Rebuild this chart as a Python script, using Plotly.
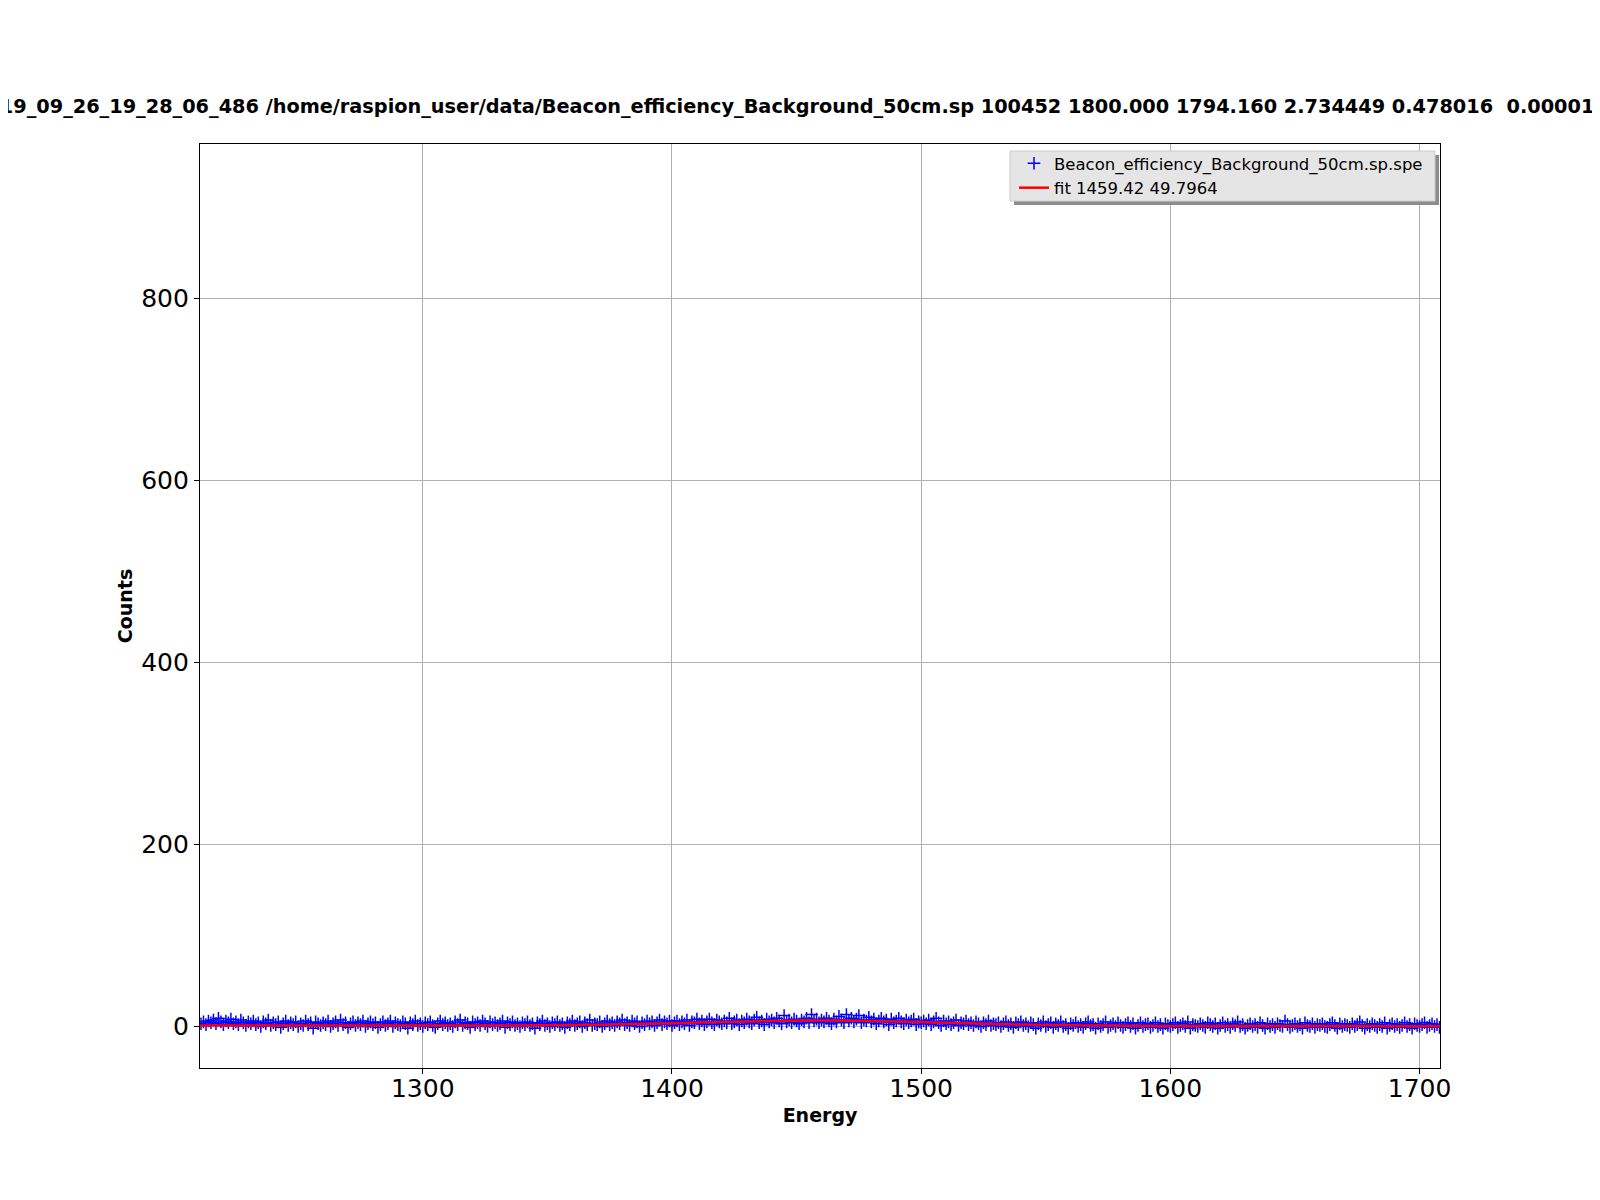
import numpy as np
import plotly.graph_objects as go

# spectrum around the 1460 keV line (1 keV bins, 1211..1708)
energy_first = 1211
counts = [
    3, 5, 2, 6, 4, 7, 3, 9, 5, 2,
    6, 4, 8, 3, 5, 2, 7, 4, 1, 5,
    3, 6, 2, 4, 0, 5, 3, 7, 1, 4,
    2, 5, -1, 3, 6, 1, 4, 2, 5, 0,
    3, 1, 6, 2, 4, -2, 5, 3, 1, 4,
    2, 6, 0, 3, 5, 1, 7, 2, 4, -1,
    3, 5, 1, 4, 2, 6, 0, 3, 5, 2,
    4, -1, 2, 5, 1, 3, 6, 0, 4, 2,
    1, 5, 3, -2, 4, 2, 6, 1, 3, 0,
    4, 2, 5, 1, -1, 3, 6, 2, 4, 1,
    3, 0, 5, 2, 7, 1, 4, 3, -1, 5,
    2, 4, 1, 6, 3, 0, 5, 2, 4, 1,
    3, 6, -1, 4, 2, 5, 1, 3, 0, 4,
    2, 5, 1, 3, -2, 4, 2, 6, 1, 3,
    0, 4, 2, 5, 1, 3, -1, 4, 2, 6,
    1, 3, 5, 0, 4, 2, 7, 1, 3, 2,
    5, 0, 3, 6, 2, 4, 1, 5, 3, 7,
    2, 4, 1, 6, 3, 5, 0, 4, 2, 6,
    3, 5, 1, 4, 7, 2, 5, 3, 6, 1,
    4, 6, 2, 5, 3, 7, 1, 5, 4, 8,
    3, 6, 2, 5, 8, 4, 2, 7, 5, 3,
    6, 4, 9, 3, 5, 7, 2, 6, 4, 8,
    5, 3, 7, 10, 4, 6, 2, 8, 5, 7,
    4, 9, 6, 3, 12, 5, 7, 4, 8, 6,
    3, 7, 5, 9, 4, 13, 6, 8, 4, 7,
    5, 9, 6, 3, 8, 5, 11, 7, 4, 13,
    6, 9, 5, 8, 12, 4, 7, 6, 10, 5,
    8, 3, 6, 9, 5, 7, 2, 8, 4, 6,
    9, 5, 3, 7, 4, 6, 8, 2, 5, 4,
    6, 3, 7, 2, 5, 9, 4, 1, 6, 3,
    5, 2, 4, 7, 1, 4, 3, 6, 2, 4,
    1, 5, 3, 0, 4, 2, 6, 1, 3, 2,
    4, 0, 3, 5, 1, 3, -1, 4, 2, 5,
    1, 3, 0, 4, 2, -2, 3, 1, 5, 0,
    2, 4, -1, 3, 1, 5, 0, 2, -2, 3,
    1, 4, 0, 2, -1, 3, 5, 1, 2, -2,
    3, 0, 2, 5, -1, 1, 3, 0, 4, 1,
    -1, 2, 4, 0, 3, -2, 1, 4, 0, 2,
    3, -1, 1, 4, 0, 2, -2, 3, 1, 0,
    2, 4, -1, 1, 3, 0, 5, -2, 2, 1,
    0, 3, 1, -1, 4, 2, 0, 3, -2, 1,
    4, 0, 2, -1, 3, 1, 5, 0, 2, -2,
    1, 3, 0, 2, -1, 4, 1, -2, 3, 0,
    2, -1, 3, 1, 0, 6, 2, -1, 1, 3,
    0, 2, -2, 4, 1, 0, 3, -1, 2, 1,
    3, 0, -1, 2, 4, 1, -2, 3, 0, 2,
    1, -1, 3, 0, 2, 5, 1, -2, 2, 0,
    3, 1, -1, 2, 0, 4, -2, 1, 3, 0,
    2, -1, 1, 4, 0, 2, -2, 3, 1, 0,
    2, 4, -1, 1, 3, 0, 2, -1,
]
energy = np.arange(energy_first, energy_first + len(counts))

# fitted gaussian + background, read every 10 keV
fit_energy = [1210, 1220, 1230, 1240, 1250, 1260, 1270, 1280, 1290, 1300,
              1310, 1320, 1330, 1340, 1350, 1360, 1370, 1380, 1390, 1400,
              1410, 1420, 1430, 1440, 1450, 1460, 1470, 1480, 1490, 1500,
              1510, 1520, 1530, 1540, 1550, 1560, 1570, 1580, 1590, 1600,
              1610, 1620, 1630, 1640, 1650, 1660, 1670, 1680, 1690, 1700, 1710]
fit_counts = [1.00, 0.99, 0.97, 0.96, 0.94, 0.93, 0.92, 0.91, 0.91, 0.90,
              0.92, 0.96, 1.02, 1.14, 1.31, 1.57, 1.93, 2.36, 2.92, 3.55,
              4.24, 4.92, 5.55, 6.03, 6.34, 6.45, 6.32, 5.97, 5.47, 4.80,
              4.10, 3.39, 2.72, 2.14, 1.67, 1.29, 1.01, 0.80, 0.66, 0.56,
              0.50, 0.46, 0.43, 0.41, 0.38, 0.37, 0.36, 0.34, 0.33, 0.31, 0.30]

title_text = ("2019_09_26_19_28_06_486 /home/raspion_user/data/Beacon_efficiency_Background_50cm.sp "
              "100452 1800.000 1794.160 2.734449 0.478016 &nbsp;0.000012")
data_name = "Beacon_efficiency_Background_50cm.sp.spe"
fit_name = "fit 1459.42 49.7964"

font = "DejaVu Sans"

# page has an 8px body margin, so the figure is drawn 8px smaller
# and the plot area lands on page x 200..1440, y 144..1068
W, H = 1592, 1192
L, R, T, B = 192, 160, 136, 132
pw, ph = W - L - R, H - T - B


def px(x):   # page x (as in reference) -> paper
    return (x - 8 - L) / pw


def py(y):   # page y -> paper
    return (H - B - (y - 8)) / ph


fig = go.Figure()
fig.add_trace(go.Scatter(
    x=energy, y=counts, mode="markers", name=data_name,
    marker=dict(symbol="cross-thin", size=9, line=dict(color="blue", width=1.5), color="blue"),
))
fig.add_trace(go.Scatter(
    x=fit_energy, y=fit_counts, mode="lines", name=fit_name,
    line=dict(color="red", width=2.5, shape="spline"),
))

axis_common = dict(
    showgrid=True, gridcolor="#b0b0b0", gridwidth=1,
    showline=True, linecolor="black", linewidth=1.2, mirror=True,
    ticks="outside", ticklen=5, tickcolor="black", tickwidth=1,
    tickfont=dict(family=font, size=25, color="black"),
    zeroline=False,
)

fig.update_layout(
    width=W, height=H,
    paper_bgcolor="white", plot_bgcolor="white",
    margin=dict(l=L, r=R, t=T, b=B),
    font=dict(family=font, color="black"),
    showlegend=True,
    legend=dict(
        x=px(1014), y=py(146), xanchor="left", yanchor="top",
        bgcolor="rgba(0,0,0,0)", borderwidth=0,
        font=dict(family=font, size=16.5, color="black"),
        tracegroupgap=0, itemwidth=30,
    ),
    xaxis=dict(range=[1210.6, 1708.2], tickvals=[1300, 1400, 1500, 1600, 1700],
               ticklabelstandoff=-7,
               title=dict(text="<b>Energy</b>", font=dict(size=19), standoff=6),
               **axis_common),
    yaxis=dict(range=[-45.7, 970], tickvals=[0, 200, 400, 600, 800],
               title=dict(text="<b>Counts</b>", font=dict(size=19), standoff=3),
               **axis_common),
)

# title, wider than the figure, clipped at both sides like the original
fig.add_annotation(
    text="<b>" + title_text + "</b>", xref="paper", yref="paper",
    x=px(-29), y=py(107), xanchor="left", yanchor="middle",
    showarrow=False, font=dict(family=font, size=19.3, color="black"),
)

# legend frame with drop shadow
fig.add_shape(type="rect", xref="paper", yref="paper",
              x0=px(1014), x1=px(1439), y0=py(205), y1=py(155),
              fillcolor="#8c8c8c", line=dict(width=0), layer="above")
fig.add_shape(type="rect", xref="paper", yref="paper",
              x0=px(1010), x1=px(1435), y0=py(201), y1=py(151),
              fillcolor="#e5e5e5", line=dict(color="#cccccc", width=1), layer="above")

fig.write_html("out.html")
